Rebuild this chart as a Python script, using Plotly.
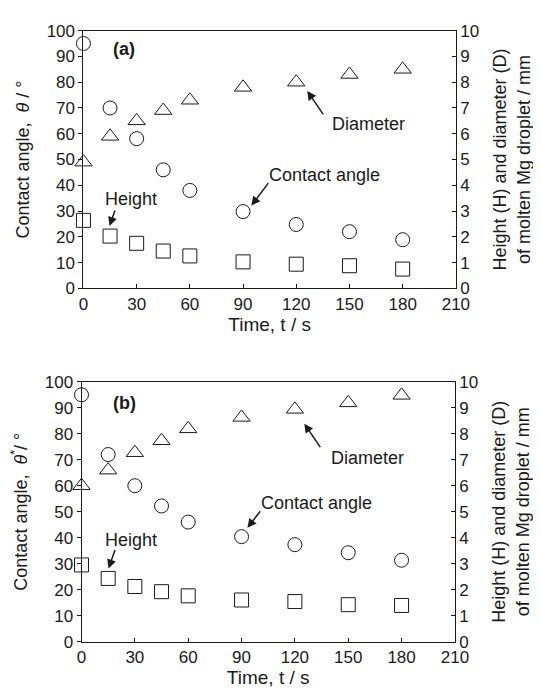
import plotly.graph_objects as go

# ---------------- data ----------------
time_s = [0, 15, 30, 45, 60, 90, 120, 150, 180]

# panel (a)
angle_a = [95, 70, 58.1, 46, 38, 29.8, 24.8, 22.0, 18.9]          # deg, left axis
diameter_a = [4.9, 5.9, 6.5, 6.9, 7.3, 7.8, 8.0, 8.3, 8.5]       # mm, right axis
height_a = [2.64, 2.03, 1.75, 1.45, 1.26, 1.03, 0.94, 0.88, 0.75]  # mm, right axis

# panel (b)
angle_b = [95, 72, 60, 52.2, 46, 40.4, 37.3, 34.2, 31.3]
diameter_b = [6.0, 6.6, 7.27, 7.73, 8.19, 8.63, 8.94, 9.19, 9.48]
height_b = [2.95, 2.43, 2.12, 1.92, 1.76, 1.60, 1.54, 1.42, 1.39]

x_ticks = [0, 30, 60, 90, 120, 150, 180, 210]
y_left_ticks = [0, 10, 20, 30, 40, 50, 60, 70, 80, 90, 100]
y_right_ticks = [0, 1, 2, 3, 4, 5, 6, 7, 8, 9, 10]

W, H = 541, 699
FONT = "Liberation Sans, Arial, sans-serif"
BLACK = "#1a1a1a"

fig = go.Figure()


def add_panel(xa, ya_left, ya_right, angle, diam, height):
    mk = dict(color="rgba(0,0,0,0)", line=dict(color=BLACK, width=1))
    fig.add_trace(go.Scatter(x=time_s, y=angle, mode="markers", xaxis=xa, yaxis=ya_left,
                             cliponaxis=False,
                             marker=dict(symbol="circle", size=14, **mk), showlegend=False))
    fig.add_trace(go.Scatter(x=time_s, y=diam, mode="markers", xaxis=xa, yaxis=ya_right,
                             cliponaxis=False,
                             marker=dict(symbol="triangle-up", size=15, **mk), showlegend=False))
    fig.add_trace(go.Scatter(x=time_s, y=height, mode="markers", xaxis=xa, yaxis=ya_right,
                             cliponaxis=False,
                             marker=dict(symbol="square", size=14, **mk), showlegend=False))


add_panel("x", "y", "y2", angle_a, diameter_a, height_a)
add_panel("x2", "y3", "y4", angle_b, diameter_b, height_b)

common_x = dict(range=[0, 210], tickvals=x_ticks, showline=True, linecolor=BLACK, linewidth=1,
                mirror=True, ticks="inside", ticklen=4, tickcolor=BLACK, showgrid=False,
                zeroline=False, tickfont=dict(size=17, color=BLACK, family=FONT),
                title=dict(text="Time, t / s", font=dict(size=19, color=BLACK, family=FONT),
                           standoff=4))
common_yl = dict(range=[0, 100], tickvals=y_left_ticks, showline=True, linecolor=BLACK,
                 linewidth=1, ticks="outside", ticklen=4, tickcolor=BLACK, showgrid=False,
                 zeroline=False, tickfont=dict(size=17, color=BLACK, family=FONT))
common_yr = dict(range=[0, 10], tickvals=y_right_ticks, showline=True, linecolor=BLACK,
                 linewidth=1, ticks="inside", ticklen=4, tickcolor=BLACK, showgrid=False,
                 zeroline=False, side="right", tickfont=dict(size=17, color=BLACK, family=FONT),
                 title=dict(text="Height (H) and diameter (D)<br>of molten Mg droplet / mm",
                            font=dict(size=18, color=BLACK, family=FONT), standoff=15))

top_dom = [1 - 279 / H, 1 - 14 / H]
bot_dom = [1 - 642 / H, 1 - 375 / H]

fig.update_layout(
    width=W, height=H, margin=dict(l=0, r=0, t=0, b=0),
    paper_bgcolor="white", plot_bgcolor="white",
    font=dict(family=FONT, color=BLACK),
    xaxis=dict(domain=[73 / W, 459 / W], anchor="y", **common_x),
    yaxis=dict(domain=top_dom, anchor="x",
               title=dict(text="Contact angle,  <i>θ</i> / °",
                          font=dict(size=18, color=BLACK, family=FONT), standoff=12),
               **common_yl),
    yaxis2=dict(domain=top_dom, anchor="x", overlaying="y", **common_yr),
    xaxis2=dict(domain=[71 / W, 458 / W], anchor="y3", **common_x),
    yaxis3=dict(domain=bot_dom, anchor="x2",
                title=dict(text="Contact angle,  <i>θ</i><sup>*</sup>/ °",
                           font=dict(size=18, color=BLACK, family=FONT), standoff=12),
                **common_yl),
    yaxis4=dict(domain=bot_dom, anchor="x2", overlaying="y3", **common_yr),
)

ann = []


def text(xr, yr, x, y, s, size=18, bold=False):
    ann.append(dict(xref=xr, yref=yr, x=x, y=y, text=f"<b>{s}</b>" if bold else s,
                    showarrow=False, font=dict(size=size, color=BLACK, family=FONT)))


def arrow(xr, yr, x, y, ax, ay):
    ann.append(dict(xref=xr, yref=yr, x=x, y=y, ax=ax, ay=ay, text="", showarrow=True,
                    arrowhead=2, arrowsize=1.2, arrowwidth=1.5, arrowcolor=BLACK, standoff=0))


# panel (a)
text("x", "y", 22.8, 92.8, "(a)", size=18, bold=True)
text("x", "y", 27, 34.7, "Height")
arrow("x", "y", 14.7, 24.2, 6, -17)
text("x", "y", 136, 43.8, "Contact angle")
arrow("x", "y", 94.7, 32.1, 18, -24)
text("x", "y", 160.5, 63.8, "Diameter")
arrow("x", "y", 126.2, 76.6, 17, 25)

# panel (b)
text("x2", "y3", 23.9, 91.8, "(b)", size=18, bold=True)
text("x2", "y3", 27.7, 39.0, "Height")
arrow("x2", "y3", 15.2, 28.1, 7, -20)
text("x2", "y3", 132.4, 53.2, "Contact angle")
arrow("x2", "y3", 93.3, 43.8, 14, -18)
text("x2", "y3", 160.6, 70.8, "Diameter")
arrow("x2", "y3", 125.3, 83.9, 17, 25)

fig.update_layout(annotations=ann)

fig.write_html("out.html")
